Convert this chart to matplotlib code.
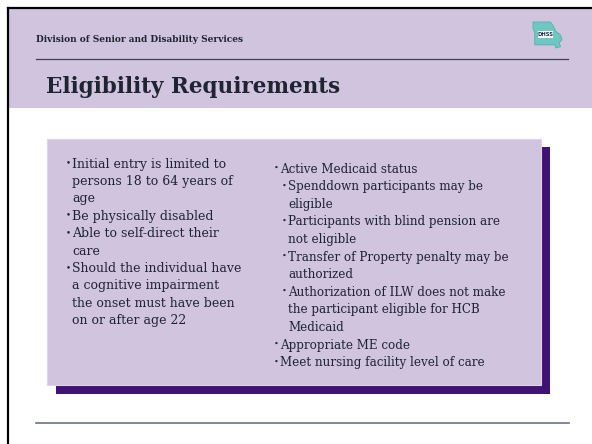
import matplotlib.pyplot as plt
from matplotlib.patches import Rectangle, Polygon

header = "Division of Senior and Disability Services"
title = "Eligibility Requirements"

# (indent level, wrapped lines)
left_items = [
    (0, ["Initial entry is limited to", "persons 18 to 64 years of", "age"]),
    (0, ["Be physically disabled"]),
    (0, ["Able to self-direct their", "care"]),
    (0, ["Should the individual have", "a cognitive impairment",
         "the onset must have been", "on or after age 22"]),
]
right_items = [
    (0, ["Active Medicaid status"]),
    (1, ["Spenddown participants may be", "eligible"]),
    (1, ["Participants with blind pension are", "not eligible"]),
    (1, ["Transfer of Property penalty may be", "authorized"]),
    (1, ["Authorization of ILW does not make",
         "the participant eligible for HCB", "Medicaid"]),
    (0, ["Appropriate ME code"]),
    (0, ["Meet nursing facility level of care"]),
]

lavender = "#D1C4DF"
purple = "#3F1273"
ink = "#1F2433"
serif = "DejaVu Serif"

fig = plt.figure(figsize=(5.92, 4.44), dpi=100)
ax = fig.add_axes([0, 0, 1, 1])
ax.set_xlim(0, 592)
ax.set_ylim(444, 0)
ax.axis("off")

# slide frame and header band
ax.add_patch(Rectangle((9, 9), 583, 99, facecolor=lavender, edgecolor="none"))
ax.plot([8, 8], [8, 444], color="black", lw=1.6)
ax.plot([8, 592], [8, 8], color="black", lw=1.6)
ax.plot([36, 568], [59, 59], color="#3C4150", lw=0.9)
ax.plot([36, 569], [423, 423], color="#6D7280", lw=1.2)

ax.text(36, 39, header, fontsize=6.5, fontweight="bold", family=serif,
        color=ink, va="center")
ax.text(46, 93, title, fontsize=15.5, fontweight="bold", family=serif,
        color=ink, va="baseline")

# DHSS logo (rough Missouri outline)
lx, ly, lw_, lh = 533, 22, 29, 26
shape = [(0.0, 0.0), (0.6, 0.0), (0.7, 0.15), (0.78, 0.35), (0.95, 0.5),
         (1.0, 0.68), (0.9, 0.8), (0.95, 0.95), (0.78, 1.0), (0.76, 0.88),
         (0.06, 0.88), (0.06, 0.4), (0.0, 0.25)]
ax.add_patch(Polygon([(lx + u * lw_, ly + v * lh) for u, v in shape],
                     facecolor="#6FC7C1", edgecolor="#4FB3AD", lw=0.6))
ax.add_patch(Rectangle((lx + 5, ly + 9), 15, 7, facecolor="white",
                       edgecolor="none"))
ax.text(lx + 12.5, ly + 12.7, "DHSS", fontsize=3.8, fontweight="bold",
        color="#1B2A55", ha="center", va="center", family="DejaVu Sans")

# content card with offset shadow
ax.add_patch(Rectangle((56, 147), 494, 247, facecolor=purple, edgecolor="none"))
ax.add_patch(Rectangle((47, 139), 494, 246, facecolor=lavender,
                       edgecolor="#DDD4E9", lw=0.8))


def draw_column(items, x0, y0, step, indent, size):
    y = y0
    for level, lines in items:
        x = x0 + level * indent
        ax.text(x - 6, y - 1, "\u2022", fontsize=size * 0.7, family=serif,
                color=ink, va="center")
        for line in lines:
            ax.text(x, y, line, fontsize=size, family=serif, color=ink,
                    va="center")
            y += step


draw_column(left_items, 72, 164, 17.4, 0, 9.0)
draw_column(right_items, 280, 169, 17.6, 8, 8.6)

fig.savefig("out.png", dpi=100)
